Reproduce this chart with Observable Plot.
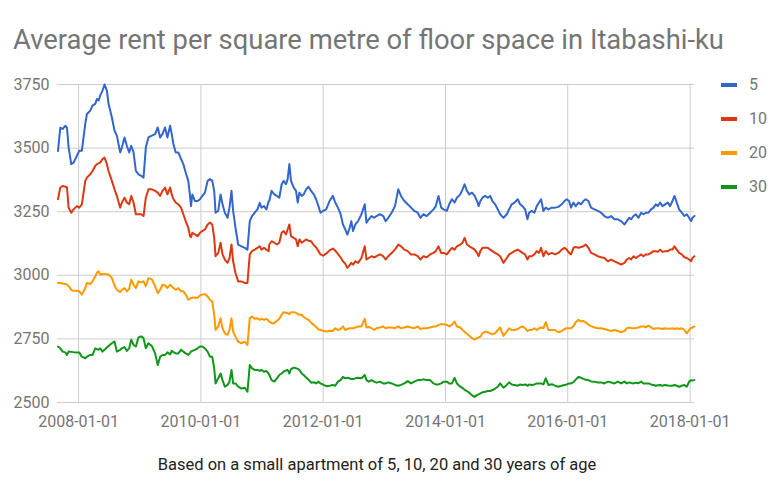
<!DOCTYPE html>
<html>
<head>
<meta charset="utf-8">
<script src="https://cdn.jsdelivr.net/npm/d3@7"></script>
<script src="https://cdn.jsdelivr.net/npm/@observablehq/plot@0.6"></script>
<style>
  html, body { margin: 0; padding: 0; background: #fff; }
  #wrap { position: relative; width: 780px; height: 500px; font-family: Roboto, "Noto Sans", sans-serif; overflow: hidden; }
  #title { position: absolute; left: 13px; top: 27px; font-size: 27.4px; line-height: 1; color: #757575; white-space: nowrap; }
  #caption { position: absolute; left: 0; width: 754px; top: 457px; font-size: 16.5px; line-height: 1; color: #222; text-align: center; white-space: nowrap; }
  #chart { position: absolute; left: 0; top: 70px; }
  .leg { position: absolute; left: 721px; font-size: 16px; line-height: 1; color: #757575; }
  .leg i { position: absolute; left: 0; width: 16px; height: 4px; }
  .leg span { position: absolute; left: 28px; top: 0; white-space: nowrap; }
</style>
</head>
<body>
<div id="wrap">
  <div id="title">Average rent per square metre of floor space in Itabashi-ku</div>
  <div id="chart"></div>
  <div id="legend"></div>
  <div id="caption">Based on a small apartment of 5, 10, 20 and 30 years of age</div>
</div>
<script>
// Decimal-year sample times
const years = [
2007.663,2007.701,2007.739,2007.783,2007.810,2007.837,2007.880,2007.918,2007.973,2008.011,
2008.054,2008.109,2008.136,2008.190,2008.228,2008.272,2008.299,2008.326,2008.353,2008.391,
2008.424,2008.462,2008.489,2008.543,2008.587,2008.625,2008.679,2008.707,2008.750,2008.788,
2008.826,2008.859,2008.897,2008.935,2008.978,2009.022,2009.060,2009.098,2009.141,2009.196,
2009.250,2009.293,2009.332,2009.370,2009.413,2009.451,2009.495,2009.522,2009.549,2009.587,
2009.630,2009.674,2009.712,2009.750,2009.793,2009.821,2009.837,2009.859,2009.902,2009.946,
2009.984,2010.022,2010.065,2010.109,2010.147,2010.185,2010.217,2010.239,2010.283,2010.321,
2010.353,2010.391,2010.435,2010.467,2010.500,2010.527,2010.565,2010.609,2010.663,2010.717,
2010.761,2010.799,2010.837,2010.880,2010.924,2010.962,2010.989,2011.033,2011.071,2011.109,
2011.118,2011.156,2011.200,2011.244,2011.282,2011.321,2011.353,2011.392,
2011.419,2011.447,2011.474,2011.518,2011.556,2011.584,2011.611,2011.649,2011.682,2011.721,
2011.759,2011.803,2011.847,2011.885,2011.923,2011.956,2012.000,2012.049,2012.104,2012.159,
2012.197,2012.241,2012.285,2012.323,2012.362,2012.395,2012.433,2012.460,2012.488,2012.526,
2012.570,2012.625,2012.679,2012.707,2012.745,2012.789,2012.833,2012.871,2012.926,2012.981,
2013.019,2013.063,2013.118,2013.173,2013.227,2013.271,2013.326,2013.381,2013.436,2013.490,
2013.545,2013.589,2013.638,2013.693,2013.748,2013.803,2013.841,2013.885,2013.929,2013.967,
2014.022,2014.060,2014.104,2014.148,2014.186,2014.241,2014.279,2014.312,2014.351,2014.389,
2014.433,2014.477,2014.515,2014.542,2014.570,
2014.605,2014.649,2014.692,2014.730,2014.768,2014.812,2014.856,2014.894,2014.948,
2015.003,2015.041,2015.084,2015.128,2015.183,2015.221,2015.259,2015.302,2015.341,2015.368,
2015.411,2015.455,2015.493,2015.531,2015.564,2015.602,2015.640,2015.684,2015.738,2015.793,
2015.847,2015.902,2015.946,2015.984,2016.022,2016.054,2016.093,2016.131,2016.174,2016.218,
2016.256,2016.294,2016.338,2016.381,2016.436,2016.490,2016.545,2016.599,2016.654,2016.708,
2016.763,2016.817,2016.872,2016.926,2016.965,2017.003,2017.035,2017.074,2017.112,2017.155,
2017.199,2017.237,2017.275,2017.319,2017.362,2017.401,2017.439,2017.471,2017.510,2017.548,
2017.591,2017.635,2017.673,2017.711,2017.744,2017.782,2017.820,2017.864,2017.907,2017.946,
2017.984,2018.016,2018.038,2018.071
];

const rent5 = [
3489,3581,3575,3588,3580,3503,3437,3443,3470,3490,
3490,3595,3634,3647,3667,3674,3693,3687,3707,3726,
3750,3726,3674,3621,3568,3549,3483,3503,3542,3509,
3483,3509,3483,3410,3397,3391,3384,3503,3542,3549,
3555,3581,3542,3555,3581,3542,3588,3555,3516,3483,
3483,3457,3437,3404,3371,3312,3272,3318,3292,3292,
3299,3312,3325,3371,3378,3371,3332,3246,3253,3318,
3279,3246,3226,3266,3332,3253,3187,3121,3114,3108,
3101,3213,3233,3246,3259,3285,3266,3272,3259,3292,
3292,3332,3318,3312,3305,3358,3371,3358,
3378,3437,3371,3345,3332,3286,3325,3312,3318,3338,
3348,3332,3318,3299,3272,3246,3253,3259,3292,3312,
3286,3266,3240,3200,3180,3160,3187,3213,3174,3200,
3213,3240,3279,3207,3220,3233,3226,3233,3240,3233,
3213,3226,3246,3272,3338,3312,3292,3279,3266,3253,
3246,3226,3240,3233,3246,3259,3272,3312,3266,3259,
3253,3279,3299,3286,3305,3318,3338,3358,3332,3318,
3325,3312,3292,3272,3292,
3305,3312,3305,3312,3292,3279,3259,3240,3226,
3240,3259,3279,3286,3299,3279,3272,3259,3220,3246,
3253,3246,3272,3286,3299,3253,3266,3259,3266,3266,
3269,3279,3292,3299,3292,3266,3286,3272,3286,3279,
3292,3299,3292,3266,3259,3253,3246,3233,3226,3233,
3220,3220,3213,3200,3213,3226,3220,3233,3240,3226,
3246,3240,3246,3246,3259,3266,3279,3272,3286,3272,
3279,3286,3272,3292,3312,3286,3259,3246,3233,3240,
3226,3213,3226,3233
];

const rent10 = [
3299,3345,3351,3348,3345,3266,3246,3259,3272,3266,
3279,3371,3384,3397,3410,3430,3437,3440,3443,3457,
3463,3437,3410,3371,3338,3312,3266,3286,3305,3286,
3279,3312,3286,3240,3240,3240,3233,3305,3338,3338,
3332,3325,3312,3332,3345,3318,3345,3318,3300,3286,
3279,3266,3240,3213,3187,3154,3150,3167,3161,3154,
3167,3174,3180,3200,3207,3200,3147,3075,3088,3128,
3082,3062,3049,3068,3121,3055,3009,2976,2976,2970,
2970,3082,3095,3101,3108,3114,3101,3108,3101,3095,
3121,3134,3128,3121,3128,3167,3174,3161,
3180,3200,3154,3147,3141,3114,3141,3128,3134,3141,
3136,3134,3118,3110,3095,3082,3077,3085,3098,3105,
3097,3084,3070,3055,3045,3029,3040,3049,3042,3055,
3049,3068,3114,3062,3068,3075,3070,3075,3082,3075,
3062,3075,3088,3101,3121,3114,3101,3095,3082,3082,
3075,3062,3075,3071,3082,3088,3095,3114,3088,3088,
3082,3095,3108,3101,3114,3121,3128,3147,3121,3114,
3108,3101,3088,3075,3095,
3108,3108,3108,3101,3095,3088,3082,3075,3049,
3068,3082,3088,3095,3101,3095,3088,3082,3062,3075,
3075,3082,3095,3088,3108,3075,3095,3082,3088,3082,
3088,3101,3108,3101,3088,3082,3108,3111,3108,3111,
3114,3121,3108,3088,3082,3075,3071,3068,3055,3062,
3055,3049,3042,3049,3062,3068,3062,3075,3068,3075,
3082,3075,3082,3082,3088,3095,3095,3092,3101,3092,
3095,3095,3101,3101,3114,3101,3088,3082,3071,3068,
3062,3055,3068,3075
];

const rent20 = [
2970,2970,2968,2966,2963,2958,2943,2939,2939,2937,
2924,2950,2970,2966,2976,2996,3010,3016,3003,3005,
3005,3004,3003,2990,2960,2943,2934,2943,2950,2937,
2947,2983,2963,2950,2976,2972,2976,2957,2989,2985,
2957,2930,2943,2963,2960,2950,2963,2957,2950,2943,
2950,2937,2937,2924,2904,2908,2911,2912,2913,2911,
2921,2924,2926,2917,2904,2897,2845,2785,2799,2831,
2792,2772,2766,2785,2831,2779,2759,2739,2733,2739,
2726,2831,2838,2829,2831,2825,2829,2825,2829,2821,
2818,2812,2812,2821,2829,2845,2855,2853,
2851,2847,2855,2855,2853,2848,2845,2845,2836,2830,
2825,2814,2805,2797,2787,2785,2782,2779,2782,2781,
2792,2785,2789,2799,2785,2789,2792,2792,2792,2795,
2799,2799,2829,2795,2797,2792,2785,2792,2795,2799,
2792,2795,2795,2792,2799,2792,2795,2799,2795,2792,
2799,2789,2792,2792,2795,2799,2799,2805,2808,2808,
2805,2799,2805,2818,2799,2795,2785,2778,2770,2762,
2753,2747,2753,2756,2759,
2772,2779,2776,2772,2768,2772,2785,2795,2762,
2779,2792,2785,2785,2789,2795,2799,2792,2781,2785,
2785,2792,2785,2792,2795,2792,2816,2785,2785,2785,
2776,2781,2789,2792,2792,2792,2800,2815,2825,2819,
2820,2815,2806,2800,2795,2792,2792,2789,2785,2781,
2785,2781,2776,2781,2792,2795,2793,2792,2793,2795,
2799,2799,2795,2802,2795,2789,2792,2792,2791,2789,
2792,2790,2790,2792,2789,2792,2789,2792,2785,2772,
2785,2793,2795,2799
];

const rent30 = [
2720,2713,2700,2697,2687,2700,2699,2698,2697,2697,
2680,2674,2680,2687,2687,2713,2710,2707,2713,2700,
2707,2716,2722,2733,2740,2700,2707,2713,2718,2703,
2713,2747,2726,2720,2756,2760,2753,2713,2733,2722,
2693,2647,2680,2687,2687,2697,2689,2703,2698,2693,
2693,2707,2700,2693,2687,2695,2700,2703,2707,2713,
2720,2720,2713,2700,2680,2680,2634,2575,2595,2614,
2588,2562,2569,2582,2628,2575,2575,2562,2555,2558,
2542,2647,2634,2628,2628,2624,2628,2621,2624,2614,
2608,2588,2582,2595,2608,2614,2621,2626,
2628,2614,2631,2637,2635,2632,2628,2614,2608,2598,
2590,2578,2580,2575,2582,2575,2570,2564,2566,2569,
2566,2582,2588,2601,2595,2597,2595,2592,2592,2595,
2597,2595,2608,2588,2582,2588,2582,2578,2582,2575,
2575,2579,2575,2569,2566,2569,2575,2584,2575,2582,
2588,2588,2591,2588,2588,2575,2571,2571,2575,2582,
2582,2575,2575,2597,2575,2562,2557,2550,2545,2538,
2528,2522,2529,2532,2536,
2540,2542,2545,2545,2549,2555,2562,2575,2558,
2569,2579,2571,2569,2566,2571,2569,2571,2566,2571,
2569,2571,2575,2575,2575,2571,2595,2569,2572,2566,
2562,2566,2569,2571,2575,2575,2580,2590,2600,2597,
2593,2589,2588,2583,2582,2579,2579,2575,2582,2579,
2575,2582,2575,2582,2575,2579,2577,2575,2578,2576,
2582,2575,2575,2575,2571,2569,2566,2568,2569,2566,
2569,2567,2566,2566,2569,2566,2562,2566,2569,2562,
2582,2588,2586,2588
];

const seriesNames = ["5", "10", "20", "30"];
const seriesColors = ["#3366cc", "#dc3912", "#ff9900", "#109618"];
const yTicks = [2500, 2750, 3000, 3250, 3500, 3750];
const xTickYears = [2008, 2010, 2012, 2014, 2016, 2018];

function toDate(t) {
  const y = Math.floor(t);
  const a = Date.UTC(y, 0, 1), b = Date.UTC(y + 1, 0, 1);
  return new Date(a + (t - y) * (b - a));
}

const allSeries = [rent5, rent10, rent20, rent30];
const data = [];
allSeries.forEach((vals, k) => {
  vals.forEach((v, i) => {
    if (i < years.length) data.push({date: toDate(years[i]), value: v, series: seriesNames[k]});
  });
});

const xTicks = xTickYears.map(y => new Date(Date.UTC(y, 0, 1)));

const chart = Plot.plot({
  width: 780,
  height: 370,
  marginTop: 14,
  marginBottom: 38,
  marginLeft: 57,
  marginRight: 86,
  style: {fontFamily: "Roboto, 'Noto Sans', sans-serif", fontSize: "16px", color: "#757575", background: "transparent"},
  x: {type: "utc", domain: [toDate(2007.655), toDate(2018.072)], ticks: xTicks, tickFormat: d3.utcFormat("%Y-%m-%d"), tickSize: 0, tickPadding: 13, label: null},
  y: {domain: [2500, 3750], ticks: yTicks, tickFormat: d => String(d), tickSize: 0, tickPadding: 8, label: null},
  color: {domain: seriesNames, range: seriesColors},
  marks: [
    Plot.ruleY(yTicks, {stroke: "#cccccc", strokeWidth: 1}),
    Plot.ruleX(xTicks, {stroke: "#cccccc", strokeWidth: 1}),
    Plot.line(data, {x: "date", y: "value", z: "series", stroke: "series", strokeWidth: 2, curve: "linear"})
  ]
});
document.getElementById("chart").appendChild(chart);

const legend = document.getElementById("legend");
const legTops = [77, 111, 145, 179];
seriesNames.forEach((name, k) => {
  const d = document.createElement("div");
  d.className = "leg";
  d.style.top = legTops[k] + "px";
  d.innerHTML = `<i style="background:${seriesColors[k]};top:6px"></i><span>${name}</span>`;
  legend.appendChild(d);
});
</script>
</body>
</html>
